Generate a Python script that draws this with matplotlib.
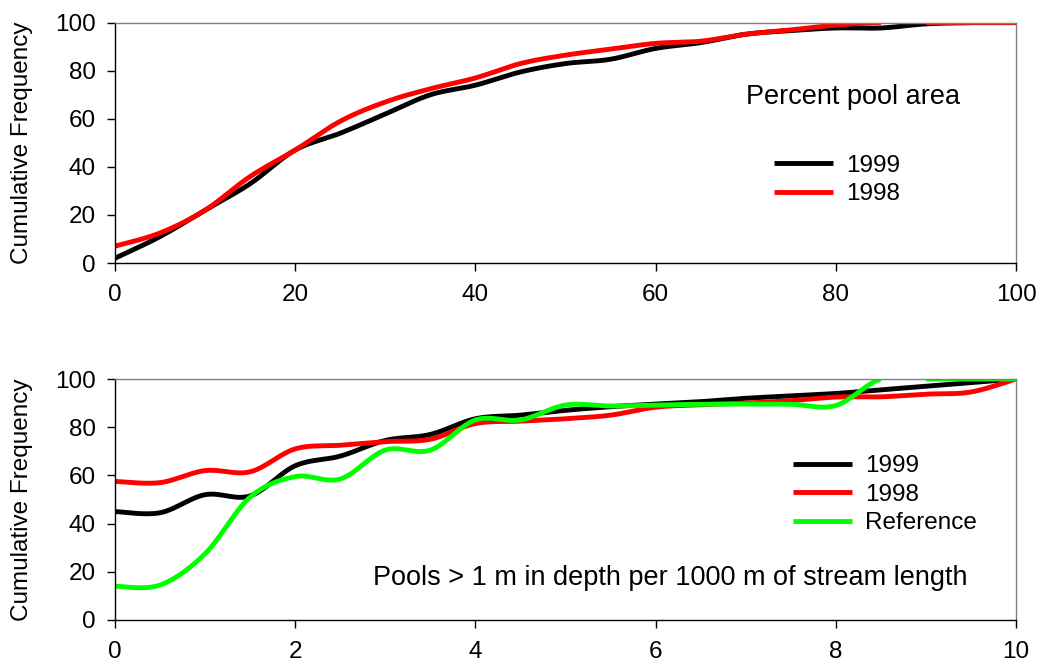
import numpy as np
import matplotlib
matplotlib.use("Agg")
import matplotlib.pyplot as plt

plt.rcParams['font.family'] = ['Liberation Sans', 'DejaVu Sans']

# ---- data: top panel (percent pool area) ----
area_x = [0, 5, 10, 15, 20, 25, 30, 35, 40, 45, 50, 55, 60, 65, 70, 75, 80, 85, 90, 95, 100]
area_1999 = [2, 11, 22, 33, 47, 54, 62, 70, 74, 79.5, 83, 84.8, 89.3, 91.7, 95.2, 96.7, 97.8, 97.8, 99.5, 100, 100]
area_1998 = [7, 12.5, 22, 36, 47, 59, 67, 72.5, 77, 83, 86.5, 89, 91.4, 92.3, 95.2, 97, 99, 100, 100, 100, 100]

# ---- data: bottom panel (pools > 1 m per 1000 m) ----
pools_x = [0, 0.5, 1, 1.5, 2, 2.5, 3, 3.5, 4, 4.5, 5, 5.5, 6, 6.5, 7, 7.5, 8, 8.5, 9, 9.5, 10]
pools_1999 = [45, 44.5, 52, 51.5, 64, 68, 74.5, 77, 83.5, 85, 87, 88.5, 89.6, 90.6, 92, 93, 94, 95.5, 97, 98.5, 100]
pools_1998 = [57.5, 57, 62, 61.5, 71, 72.5, 74, 75, 81.5, 82.5, 83.5, 85, 88.3, 89.3, 90, 91, 92.5, 92.6, 93.7, 94.6, 100]
pools_ref = [14, 14.5, 27.5, 51, 59.5, 58.5, 70.5, 70.5, 83, 83, 89.2, 88.8, 89.2, 89.5, 89.6, 89.5, 89, 100, 100, 100, 100]

series_labels = ['1999', '1998', 'Reference']
colors = ['#000000', '#FF0000', '#00FF00']


def smooth(x, y, n=30, ymax=100.0):
    """Excel-like smoothed line (Bezier with 1/6 tangents); parts above ymax hidden."""
    x = np.asarray(x, float)
    y = np.asarray(y, float)
    px = np.concatenate([[x[0]], x, [x[-1]]])
    py = np.concatenate([[y[0]], y, [y[-1]]])
    xs, ys = [], []
    t = np.linspace(0, 1, n)
    for i in range(len(x) - 1):
        p0x, p0y = px[i + 1], py[i + 1]
        p3x, p3y = px[i + 2], py[i + 2]
        c1x = p0x + (px[i + 2] - px[i]) / 6
        c1y = p0y + (py[i + 2] - py[i]) / 6
        c2x = p3x - (px[i + 3] - px[i + 1]) / 6
        c2y = p3y - (py[i + 3] - py[i + 1]) / 6
        bx = (1 - t) ** 3 * p0x + 3 * (1 - t) ** 2 * t * c1x + 3 * (1 - t) * t ** 2 * c2x + t ** 3 * p3x
        by = (1 - t) ** 3 * p0y + 3 * (1 - t) ** 2 * t * c1y + 3 * (1 - t) * t ** 2 * c2y + t ** 3 * p3y
        if by.max() > ymax + 1e-6:
            by = np.full_like(by, np.nan)
        xs.append(bx)
        ys.append(by)
    return np.concatenate(xs), np.concatenate(ys)


W, H = 1045, 664
fig = plt.figure(figsize=(W / 100, H / 100), dpi=100)
FS = 17.5
FS_ANN = 19.5

ax1 = fig.add_axes([115 / W, 1 - 263 / H, 901 / W, 240.3 / H])
ax2 = fig.add_axes([115 / W, 1 - 620 / H, 901 / W, 241 / H])


def style(ax, xmax, xstep):
    ax.set_xlim(0, xmax)
    ax.set_ylim(0, 100)
    ax.set_xticks(np.arange(0, xmax + xstep / 2, xstep))
    ax.set_yticks(np.arange(0, 101, 20))
    ax.tick_params(direction='out', length=6, width=1, labelsize=FS, colors='black')
    ax.tick_params(axis='x', pad=9)
    ax.tick_params(axis='y', pad=8)
    for s in ['left', 'bottom']:
        ax.spines[s].set_color('#000000')
        ax.spines[s].set_linewidth(1)
    for s in ['top', 'right']:
        ax.spines[s].set_color('#808080')
        ax.spines[s].set_linewidth(1)
    ax.set_ylabel('Cumulative Frequency', fontsize=FS)
    ax.yaxis.set_label_coords(-0.091, 0.5)


style(ax1, 100, 20)
style(ax2, 10, 2)

for yv, lab, c in zip([area_1999, area_1998], series_labels[:2], colors[:2]):
    sx, sy = smooth(area_x, yv)
    ax1.plot(sx, sy, color=c, lw=3.5, label=lab, solid_capstyle='butt')

for yv, lab, c in zip([pools_1999, pools_1998, pools_ref], series_labels, colors):
    sx, sy = smooth(pools_x, yv)
    ax2.plot(sx, sy, color=c, lw=3.5, label=lab, solid_capstyle='butt')

leg_kw = dict(frameon=False, fontsize=FS, borderpad=0, borderaxespad=0,
              handlelength=2.43, handletextpad=0.55, labelspacing=0.27, loc='center left')
ax1.legend(bbox_to_anchor=(0.7314, 0.346), **leg_kw)
ax2.legend(bbox_to_anchor=(0.752, 0.52), **leg_kw)

ax1.text(70.0, 69, 'Percent pool area', fontsize=FS_ANN, ha='left', va='center')
ax2.text(2.86, 17.4, 'Pools > 1 m in depth per 1000 m of stream length', fontsize=FS_ANN,
         ha='left', va='center')

fig.savefig('out.png', dpi=100)
